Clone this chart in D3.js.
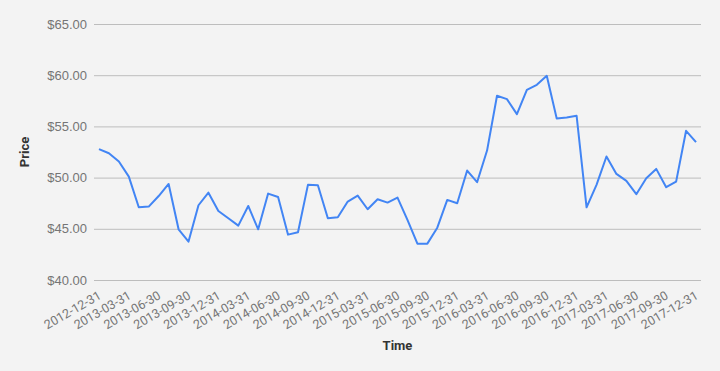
<!DOCTYPE html>
<html>
<head>
<meta charset="utf-8">
<script src="https://cdn.jsdelivr.net/npm/d3@7"></script>
<style>
  body { margin: 0; background: #f3f3f3; }
  svg { display: block; font-family: Roboto, Arial, sans-serif; }
</style>
</head>
<body>
<div id="chart"></div>
<script>
// DATA
// month-end closing price, Dec 2012 .. Dec 2017
var prices = [
  52.78, 52.38, 51.57, 50.10, 47.10, 47.17, 48.20, 49.38, 44.95, 43.75,
  47.30, 48.53, 46.74, 46.03, 45.31, 47.23, 44.95, 48.44, 48.10, 44.43,
  44.66, 49.29, 49.26, 46.03, 46.13, 47.66, 48.24, 46.91, 47.89, 47.56,
  48.05, 45.87, 43.55, 43.55, 45.11, 47.82, 47.49, 50.69, 49.55, 52.64,
  57.99, 57.66, 56.20, 58.57, 59.06, 59.94, 55.77, 55.87, 56.03, 47.10,
  49.29, 52.06, 50.36, 49.68, 48.38, 49.94, 50.85, 49.06, 49.61, 54.57,
  53.46
];
var tickLabels = [
  "2012-12-31", "2013-03-31", "2013-06-30", "2013-09-30", "2013-12-31",
  "2014-03-31", "2014-06-30", "2014-09-30", "2014-12-31", "2015-03-31",
  "2015-06-30", "2015-09-30", "2015-12-31", "2016-03-31", "2016-06-30",
  "2016-09-30", "2016-12-31", "2017-03-31", "2017-06-30", "2017-09-30",
  "2017-12-31"
];
var yTicks = [40, 45, 50, 55, 60, 65];

// SET UP
var W = 720, H = 371;
var margin = {top: 24, right: 19, bottom: 91, left: 94},
    width = W - margin.left - margin.right,
    height = H - margin.top - margin.bottom;

var svg = d3.select("#chart").append("svg")
    .attr("width", W)
    .attr("height", H);

svg.append("rect").attr("width", W).attr("height", H).attr("fill", "#f3f3f3");

var g = svg.append("g")
    .attr("transform", "translate(" + margin.left + "," + margin.top + ")");

// one slot per month, tick label on every 3rd
var idx = d3.range(prices.length);
var xScale = d3.scalePoint().domain(idx).range([0, width]).padding(0.5);
var yScale = d3.scaleLinear().domain([40, 65]).range([height, 0]);

// gridlines + y labels
var yAxis = g.append("g")
    .call(d3.axisLeft(yScale).tickValues(yTicks).tickSize(-width).tickPadding(7)
        .tickFormat(d => "$" + d3.format(".2f")(d)));
yAxis.select(".domain").remove();
yAxis.selectAll("line").attr("stroke", "#bdbdbd");
yAxis.selectAll("text").attr("fill", "#757575").style("font-size", "13px");

// x labels
var xTickIdx = idx.filter(i => i % 3 === 0);
g.append("g")
    .selectAll("text")
    .data(xTickIdx)
    .join("text")
    .attr("transform", d => "translate(" + (xScale(d) + 3) + "," + (height + 18) + ") rotate(-30)")
    .attr("text-anchor", "end")
    .attr("fill", "#757575")
    .style("font-size", "12.5px")
    .text((d, i) => tickLabels[i]);

// line
var line = d3.line()
    .x((d, i) => xScale(i))
    .y(d => yScale(d));

g.append("path")
    .datum(prices)
    .attr("fill", "none")
    .attr("stroke", "#4285f4")
    .attr("stroke-width", 2)
    .attr("stroke-linejoin", "round")
    .attr("d", line);

// axis titles
svg.append("text")
    .attr("x", margin.left + width / 2)
    .attr("y", 350)
    .attr("text-anchor", "middle")
    .attr("fill", "#333")
    .style("font-size", "13px")
    .style("font-weight", "bold")
    .text("Time");

svg.append("text")
    .attr("transform", "translate(29," + (margin.top + height / 2) + ") rotate(-90)")
    .attr("text-anchor", "middle")
    .attr("fill", "#333")
    .style("font-size", "13px")
    .style("font-weight", "bold")
    .text("Price");
</script>
</body>
</html>
